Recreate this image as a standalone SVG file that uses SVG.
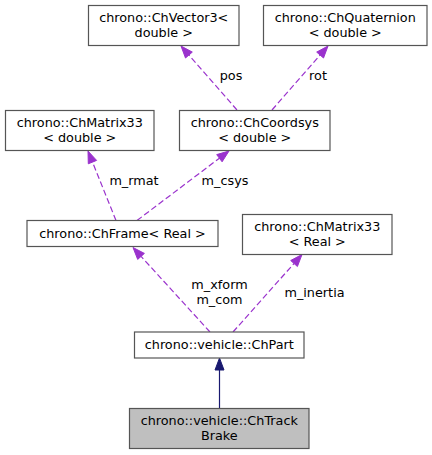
<svg xmlns="http://www.w3.org/2000/svg" width="432" height="455" viewBox="0 0 432 455">
<style>
text{font-family:"DejaVu Sans","Liberation Sans",sans-serif;font-size:12.8px;fill:#000;text-anchor:middle}
.box{fill:#fff;stroke:#555;stroke-width:1.2}
.sel{fill:#bfbfbf;stroke:#555;stroke-width:1.2}
.use{fill:none;stroke:#9a32cd;stroke-width:1.2;stroke-dasharray:6,3}
.useh{fill:#9a32cd;stroke:#9a32cd}
.inh{fill:none;stroke:#191970;stroke-width:1.2}
.inhh{fill:#191970;stroke:#191970}
</style>
<rect width="432" height="455" fill="#fff"/>
<g id="edges">
<line class="use" x1="237" y1="110" x2="188.9" y2="55.0"/>
<polygon class="useh" points="181,46 192.3,52.1 185.5,58.0"/>
<text x="231" y="80">pos</text>
<line class="use" x1="272" y1="110" x2="320.1" y2="55.0"/>
<polygon class="useh" points="328,46 323.5,58.0 316.7,52.1"/>
<text x="318" y="80">rot</text>
<line class="use" x1="116" y1="220.5" x2="92.5" y2="162.1"/>
<polygon class="useh" points="88,151 96.6,160.4 88.3,163.8"/>
<text x="134" y="185">m_rmat</text>
<line class="use" x1="137" y1="220.5" x2="219.4" y2="158.2"/>
<polygon class="useh" points="229,151 222.1,161.8 216.7,154.6"/>
<text x="225" y="185">m_csys</text>
<line class="use" x1="210" y1="332" x2="141.1" y2="256.4"/>
<polygon class="useh" points="133,247.5 144.4,253.4 137.7,259.4"/>
<text x="219.5" y="289">m_xform</text>
<text x="219.5" y="304">m_com</text>
<line class="use" x1="233" y1="332" x2="294.0" y2="263.5"/>
<polygon class="useh" points="302,254.5 297.4,266.5 290.7,260.5"/>
<text x="314.5" y="297">m_inertia</text>
<line class="inh" x1="219.5" y1="408.5" x2="219.5" y2="370"/>
<polygon class="inhh" points="219.5,358 224,370 215,370"/>
</g>
<g id="ChVector3">
<rect class="box" x="88.5" y="5.5" width="150.5" height="40"/>
<text x="163.75" y="22">chrono::ChVector3&lt;</text>
<text x="163.75" y="37">double &gt;</text>
</g>
<g id="ChQuaternion">
<rect class="box" x="263.5" y="5.5" width="163.5" height="40"/>
<text x="345.25" y="22">chrono::ChQuaternion</text>
<text x="345.25" y="37">&lt; double &gt;</text>
</g>
<g id="ChMatrix33_double">
<rect class="box" x="5.5" y="110.5" width="148.5" height="40"/>
<text x="79.75" y="127">chrono::ChMatrix33</text>
<text x="79.75" y="142">&lt; double &gt;</text>
</g>
<g id="ChCoordsys">
<rect class="box" x="179.5" y="110.5" width="150.5" height="40"/>
<text x="254.75" y="127">chrono::ChCoordsys</text>
<text x="254.75" y="142">&lt; double &gt;</text>
</g>
<g id="ChFrame">
<rect class="box" x="27" y="220.5" width="191" height="26"/>
<text x="122.5" y="237.5">chrono::ChFrame&lt; Real &gt;</text>
</g>
<g id="ChMatrix33_Real">
<rect class="box" x="242.5" y="214.5" width="149.5" height="40"/>
<text x="317.25" y="231">chrono::ChMatrix33</text>
<text x="317.25" y="246">&lt; Real &gt;</text>
</g>
<g id="ChPart">
<rect class="box" x="134.5" y="332" width="169.5" height="26"/>
<text x="219.25" y="349">chrono::vehicle::ChPart</text>
</g>
<g id="ChTrackBrake">
<rect class="sel" x="129.5" y="408.5" width="179.5" height="40"/>
<text x="219.25" y="425">chrono::vehicle::ChTrack</text>
<text x="219.25" y="440">Brake</text>
</g>
</svg>
